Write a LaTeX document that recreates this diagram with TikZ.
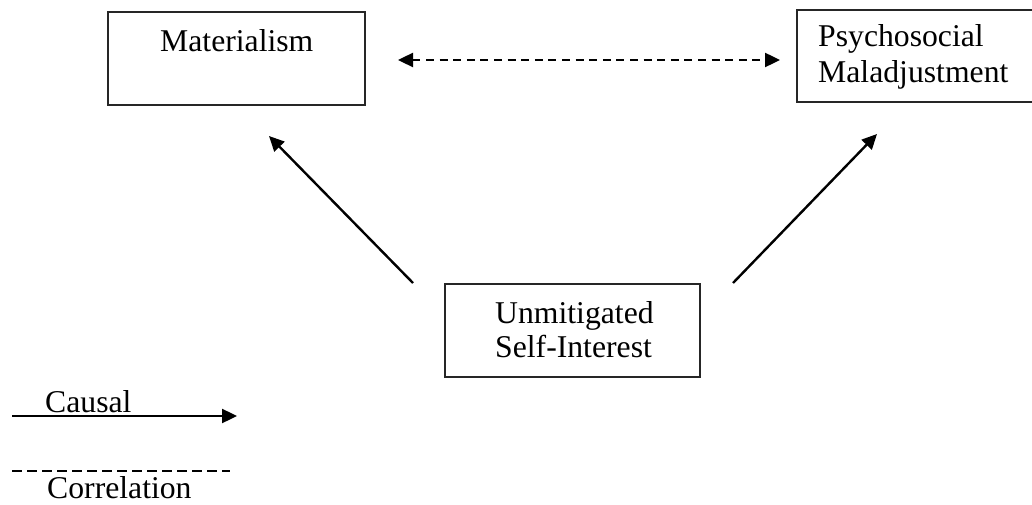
\documentclass[tikz,border=0pt]{standalone}
\usepackage{fontspec}
\setmainfont{Liberation Serif}
\usetikzlibrary{arrows.meta}
\begin{document}
\begin{tikzpicture}[x=1pt,y=-1pt,
  box/.style={draw=black!85,line width=1.8pt,inner sep=0pt},
  lbl/.style={anchor=base west,inner sep=0pt,font=\fontsize{31.7}{36}\selectfont},
  causal/.style={line width=2.4pt,-{Triangle[length=15pt,width=14pt]}},
  correl/.style={line width=2.4pt,dash pattern=on 8pt off 5.6pt,{Triangle[length=15pt,width=14pt]}-{Triangle[length=15pt,width=14pt]}},
  legdash/.style={line width=2pt,dash pattern=on 10pt off 5pt}]
\useasboundingbox (0,0) rectangle (1032,505);
\begin{scope}
\clip (0,0) rectangle (1032,505);
% concept boxes
\node[box,minimum width=257pt,minimum height=93pt] (mat) at (236.5,58.5) {};
\node[box,minimum width=237pt,minimum height=92pt] (psy) at (915.5,56) {};
\node[box,minimum width=255pt,minimum height=93pt] (usi) at (572.5,330.5) {};
\end{scope}
% box labels
\node[lbl] (matT) at (160,52) {Materialism};
\node[lbl] (psyA) at (818,47) {Psychosocial};
\node[lbl] (psyB) at (818,83) {Maladjustment};
\node[lbl] (usiA) at (495,323) {Unmitigated};
\node[lbl] (usiB) at (495,357) {Self-Interest};
% connector end points
\coordinate (corL) at (398,60);
\coordinate (corR) at (780,60);
\coordinate (lS) at (413,283);
\coordinate (lE) at (269,136);
\coordinate (rS) at (733,283);
\coordinate (rE) at (877,134);
\draw[correl] (corL) -- (corR);
\draw[causal] (lS) -- (lE);
\draw[causal] (rS) -- (rE);
% legend
\coordinate (kcA) at (12,416);
\coordinate (kcB) at (237,416);
\coordinate (kdA) at (12,471);
\coordinate (kdB) at (230,471);
\draw[causal] (kcA) -- (kcB);
\draw[legdash] (kdA) -- (kdB);
\node[lbl] (kcT) at (45,412) {Causal};
\node[lbl] (kdT) at (47,498) {Correlation};
\end{tikzpicture}
\end{document}
